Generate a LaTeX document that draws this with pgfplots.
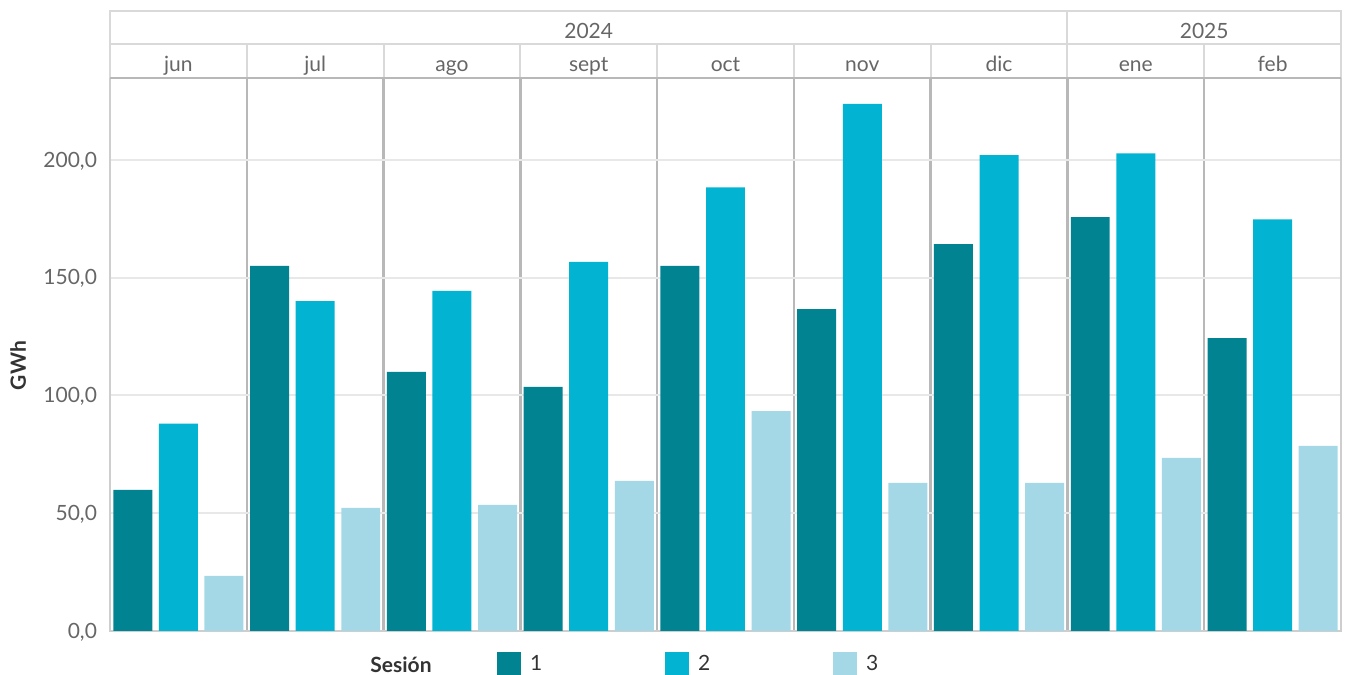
\documentclass[border=0pt]{standalone}
\usepackage{fontspec}
\setmainfont{Lato}
\usepackage{pgfplots}
\usepackage{pgfplotstable}
\pgfplotsset{compat=1.18}
\definecolor{cA}{HTML}{028391}
\definecolor{cB}{HTML}{02B3D2}
\definecolor{cC}{HTML}{A5D8E6}
\definecolor{hdr}{HTML}{D9D9D9}
\definecolor{sepc}{HTML}{B8B8B8}
\definecolor{grd}{HTML}{E8E8E8}
\definecolor{tickc}{HTML}{666666}
\definecolor{txt}{HTML}{333333}

\pgfplotstableread{
m s1 s2 s3
0 59.9 88.0 23.4
1 155.0 140.1 52.3
2 110.0 144.4 53.5
3 103.6 156.7 63.7
4 155.0 188.4 93.4
5 136.7 223.8 62.9
6 164.3 202.0 62.9
7 175.7 202.8 73.5
8 124.4 174.8 78.6
}\datatab

\pgfplotsset{
  sq legend/.style={legend image code/.code={\fill[##1] (0pt,-6pt) rectangle (12pt,6pt);}},
  bars/.style={ybar, bar width=0.285, bar shift=0pt, draw=none, sq legend},
}

\begin{document}
\begin{tikzpicture}[font=\fontsize{10.5}{12.5}\selectfont]
\begin{axis}[
  at={(0,0)}, anchor=south west,
  scale only axis, width=615.5pt, height=276.5pt,
  xmin=0, xmax=9, ymin=0, ymax=234.8,
  clip=false,
  axis line style={draw=hdr!95!black, line width=1pt},
  major tick length=0pt, minor tick length=0pt,
  tick style={draw=none},
  xtick={0.5,1.5,2.5,3.5,4.5,5.5,6.5,7.5,8.5},
  xticklabels={jun,jul,ago,sept,oct,nov,dic,ene,feb},
  xticklabel pos=upper,
  xticklabel style={anchor=base, yshift=3pt, text=tickc},
  minor xtick={1,2,3,4,5,6,7,8,9},
  xminorgrids=true,
  minor grid style={draw=sepc, line width=1.2pt},
  ytick={0,50,100,150,200},
  ymajorgrids=true,
  major grid style={draw=grd, line width=1pt},
  yticklabel style={anchor=east, xshift=-3pt, yshift=-0.5pt, text=tickc,
    /pgf/number format/.cd, fixed, fixed zerofill, precision=1, use comma, assume math mode=true},
  ylabel={GWh},
  ylabel style={at={(axis description cs:-0.0747,0.48)}, anchor=center, font=\fontsize{10.5}{12.5}\selectfont\bfseries, text=txt},
  legend style={at={(axis description cs:0.3144,-0.0597)}, anchor=west, draw=none, fill=none,
    inner sep=0pt, outer sep=0pt, legend columns=3,
    /tikz/every odd column/.append style={column sep=4.5pt},
    nodes={inner sep=0pt, text width=67.5pt, align=left, text=txt, anchor=west}},
]
\addplot[bars, fill=cA] table[x expr=\thisrow{m}+0.1667, y=s1]{\datatab};
\addlegendentry{1}
\addplot[bars, fill=cB] table[x expr=\thisrow{m}+0.5, y=s2]{\datatab};
\addlegendentry{2}
\addplot[bars, fill=cC] table[x expr=\thisrow{m}+0.8333, y=s3]{\datatab};
\addlegendentry{3}

% header
\draw[hdr, line width=1pt] (axis cs:0,234.8) -- ([yshift=33.5pt]axis cs:0,234.8) -- ([yshift=33.5pt]axis cs:9,234.8) -- (axis cs:9,234.8);
\draw[hdr, line width=1pt] ([yshift=17pt]axis cs:0,234.8) -- ([yshift=17pt]axis cs:9,234.8);
\pgfplotsinvokeforeach{1,...,8}{
  \draw[hdr, line width=1pt] (axis cs:#1,234.8) -- ([yshift=17pt]axis cs:#1,234.8);
}
\draw[hdr, line width=1pt] ([yshift=17pt]axis cs:7,234.8) -- ([yshift=33.5pt]axis cs:7,234.8);
\draw[draw=hdr!85!black, line width=1pt] (axis cs:0,234.8) -- (axis cs:9,234.8);
\node[anchor=base, text=tickc] at ([yshift=19.5pt]axis cs:3.5,234.8) {2024};
\node[anchor=base, text=tickc] at ([yshift=19.5pt]axis cs:8,234.8) {2025};
\node[anchor=base west, font=\fontsize{10.5}{12.5}\selectfont\bfseries, text=txt, inner sep=0pt] at (axis description cs:0.2112,-0.075) {Sesión};
\end{axis}
\pgfresetboundingbox
\path[use as bounding box] (-55pt,-22pt) rectangle (620.5pt,315.5pt);
\end{tikzpicture}
\end{document}
